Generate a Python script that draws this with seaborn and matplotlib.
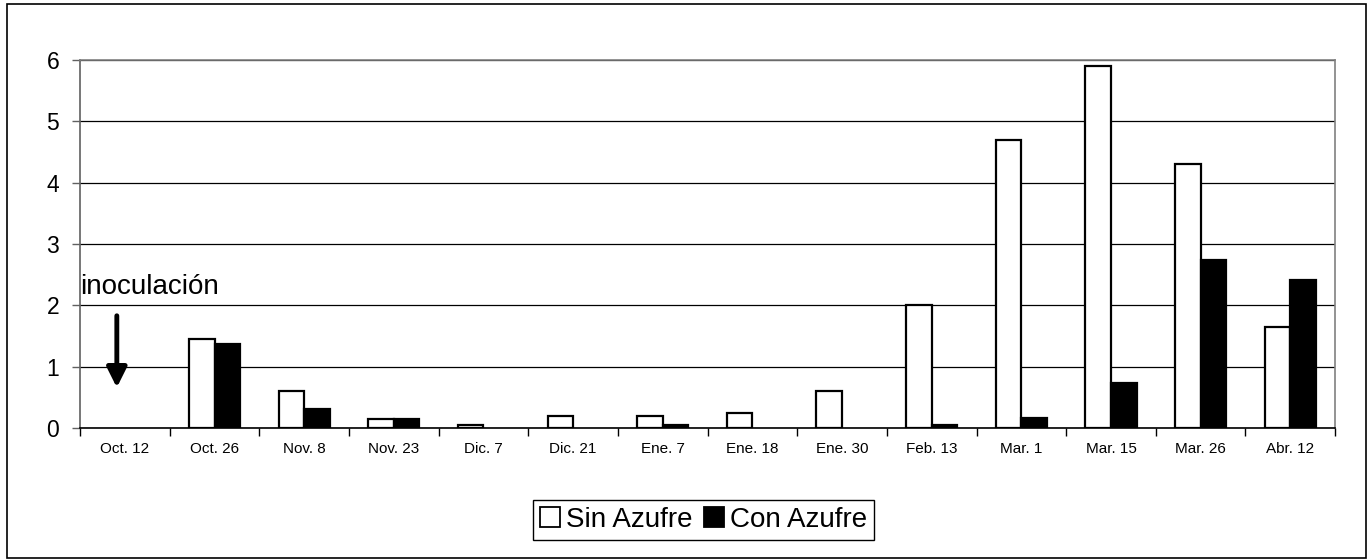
#bar chart of severity by sampling date, with and without sulfur

import matplotlib
matplotlib.use("Agg")
import matplotlib.pyplot as plt
import matplotlib.patches as mpatches
import numpy as np
import pandas as pd
import seaborn as sns

#dates on the x axis
fechas = ["Oct. 12", "Oct. 26", "Nov. 8", "Nov. 23", "Dic. 7", "Dic. 21", "Ene. 7",
          "Ene. 18", "Ene. 30", "Feb. 13", "Mar. 1", "Mar. 15", "Mar. 26", "Abr. 12"]

#series values
sin_azufre = [0, 1.45, 0.6, 0.15, 0.05, 0.2, 0.2, 0.25, 0.6, 2.0, 4.7, 5.9, 4.3, 1.65]
con_azufre = [0, 1.37, 0.31, 0.15, 0, 0, 0.05, 0, 0, 0.05, 0.16, 0.74, 2.74, 2.41]

series = ["Sin Azufre", "Con Azufre"]
y_ticks = [0, 1, 2, 3, 4, 5, 6]

#long form table for seaborn
df = pd.DataFrame({
    "fecha": fechas * 2,
    "valor": sin_azufre + con_azufre,
    "serie": [series[0]] * len(fechas) + [series[1]] * len(fechas),
})

plt.rcParams['font.family'] = ['Liberation Sans', 'DejaVu Sans']

fig = plt.figure(figsize=(13.71, 5.59), dpi=100)
ax = fig.add_axes([0.0584, 0.2343, 0.9154, 0.6584])

sns.barplot(data=df, x="fecha", y="valor", hue="serie", order=fechas,
            hue_order=series, palette=["white", "black"], edgecolor="black",
            linewidth=1.6, width=0.57, ax=ax, legend=False)

#hide empty bars (no outline line for zero values)
for p in ax.patches:
    if p.get_height() == 0:
        p.set_visible(False)

#axis limits and gridlines
ax.set_xlim(-0.5, len(fechas) - 0.5)
ax.set_ylim(0, 6)
ax.set_yticks(y_ticks)
ax.yaxis.grid(True, color="black", linewidth=0.9)
ax.set_axisbelow(True)
ax.set_xlabel("")
ax.set_ylabel("")

#spines like the original
ax.spines["left"].set_color("#606060")
ax.spines["bottom"].set_color("black")
ax.spines["top"].set_color("#808080")
ax.spines["right"].set_color("#808080")
for s in ax.spines.values():
    s.set_linewidth(1.2)

#tick marks between categories, labels at centers
ax.set_xticks(np.arange(-0.5, len(fechas), 1), minor=True)
ax.tick_params(axis="x", which="major", length=0, labelsize=11, pad=10)
ax.tick_params(axis="x", which="minor", length=6, width=1, direction="out")
ax.tick_params(axis="y", labelsize=16.5, length=6, width=1, pad=9, color="#606060")

#annotation for inoculation
ax.text(-0.5, 2.19, "inoculación", fontsize=20, ha="left", va="baseline")
ax.annotate("", xy=(-0.09, 0.66), xytext=(-0.09, 1.83),
            arrowprops=dict(arrowstyle="-|>,head_width=0.4,head_length=0.8",
                            mutation_scale=15, color="black", lw=3.5,
                            shrinkA=0, shrinkB=0))

#legend
handles = [mpatches.Patch(facecolor="white", edgecolor="black", linewidth=1.3, label=series[0]),
           mpatches.Patch(facecolor="black", edgecolor="black", linewidth=1.3, label=series[1])]
fig.legend(handles=handles, loc="center", bbox_to_anchor=(0.513, 0.07), ncol=2,
           fontsize=20, frameon=True, fancybox=False, edgecolor="black",
           handlelength=0.75, handleheight=0.75, handletextpad=0.2, columnspacing=0.4,
           borderpad=0.25, framealpha=1)

#border around whole figure
fig.patches.append(mpatches.Rectangle((0.0051, 0.001), 0.9913, 0.9918, transform=fig.transFigure,
                                      fill=False, edgecolor="black", linewidth=1.2))

fig.savefig("out.png", dpi=100)
